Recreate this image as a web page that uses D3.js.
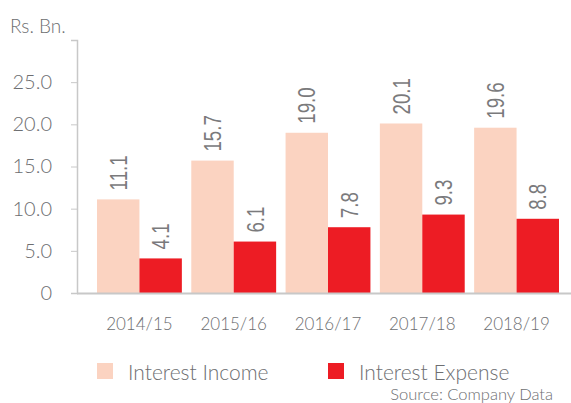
<!DOCTYPE html>
<html>
<head>
<meta charset="utf-8">
<script src="https://cdn.jsdelivr.net/npm/d3@7"></script>
<style>
	body { margin: 0; background: #fff; }
	text { font-family: Lato, "Noto Sans", sans-serif; font-weight: 300; fill: #6d6e71; }
</style>
</head>
<body>
<svg width="571" height="403"></svg>
<script>
var years = ["2014/15", "2015/16", "2016/17", "2017/18", "2018/19"];
var incomeValues = [11.1, 15.7, 19.0, 20.1, 19.6];
var expenseValues = [4.1, 6.1, 7.8, 9.3, 8.8];
var seriesNames = ["Interest Income", "Interest Expense"];
var yTicks = [0, 5, 10, 15, 20, 25, 30];

function drawPlot() {
	var svg = d3.select("svg");
	var colors = ["#fbd3c1", "#ed1c24"];

	var rows = years.map((d, i) => ({year: d, values: [incomeValues[i], expenseValues[i]]}));

	var x0 = d3.scaleBand()
		.domain(years)
		.range([97, 559])
		.paddingInner(0.1)
		.paddingOuter(0);
	var x1 = d3.scaleBand()
		.domain([0, 1])
		.range([0, x0.bandwidth()]);
	var y = d3.scaleLinear()
		.domain([0, 30])
		.range([293, 40]);

	// y axis
	var yAxis = svg.append("g")
		.attr("transform", "translate(77,0)")
		.call(d3.axisLeft(y).tickValues(yTicks).tickSize(6).tickPadding(19)
			.tickFormat(d => d == 30 ? "" : (d == 0 ? "0" : d3.format(".1f")(d))));
	yAxis.attr("font-family", null);
	yAxis.select(".domain").attr("stroke", "#c8c8c8").attr("stroke-width", 1.5);
	yAxis.selectAll(".tick line").attr("stroke", "#c8c8c8");
	yAxis.selectAll(".tick text")
		.style("font-size", "20px")
		.style("fill", "#6d6e71");

	svg.append("text")
		.attr("x", 10).attr("y", 33)
		.style("font-size", "19px")
		.text("Rs. Bn.");

	// bars
	var grp = svg.selectAll("g.year").data(rows)
		.enter().append("g")
		.attr("class", "year")
		.attr("transform", d => "translate(" + x0(d.year) + ",0)");
	grp.selectAll("rect").data(d => d.values)
		.enter().append("rect")
		.attr("x", (d, i) => x1(i))
		.attr("y", d => y(d))
		.attr("width", x1.bandwidth())
		.attr("height", d => y(0) - y(d))
		.style("fill", (d, i) => colors[i]);
	grp.selectAll("text.val").data(d => d.values)
		.enter().append("text")
		.attr("class", "val")
		.attr("transform", (d, i) => "translate(" + (x1(i) + x1.bandwidth() / 2) + "," + (y(d) - 9) + ")rotate(-90)scale(0.78,1)")
		.attr("dy", "0.36em")
		.style("font-family", "'Liberation Sans', Arial, sans-serif")
		.style("font-weight", 400)
		.style("font-size", "24px")
		.style("fill", "#7a7a7c")
		.text(d => d.toFixed(1));

	// x axis
	var xAxis = svg.append("g")
		.attr("transform", "translate(0,293)")
		.call(d3.axisBottom(x0).tickSize(0).tickPadding(25));
	xAxis.attr("font-family", null);
	xAxis.select(".domain").remove();
	svg.append("line")
		.attr("x1", 77).attr("x2", 571)
		.attr("y1", 293.5).attr("y2", 293.5)
		.attr("stroke", "#c8c8c8").attr("stroke-width", 2);
	xAxis.selectAll(".tick text")
		.style("font-size", "17px")
		.style("fill", "#6d6e71");

	// legend
	var legendX = [97, 328];
	var leg = svg.selectAll("g.legend").data(seriesNames)
		.enter().append("g")
		.attr("class", "legend")
		.attr("transform", (d, i) => "translate(" + legendX[i] + ",363)");
	leg.append("rect")
		.attr("width", 16).attr("height", 16)
		.style("fill", (d, i) => colors[i]);
	leg.append("text")
		.attr("x", 31).attr("y", 17)
		.style("font-size", "21px")
		.text(d => d);

	svg.append("text")
		.attr("x", 553).attr("y", 400)
		.attr("text-anchor", "end")
		.style("font-size", "16.5px")
		.text("Source: Company Data");
}
drawPlot();
</script>
</body>
</html>
